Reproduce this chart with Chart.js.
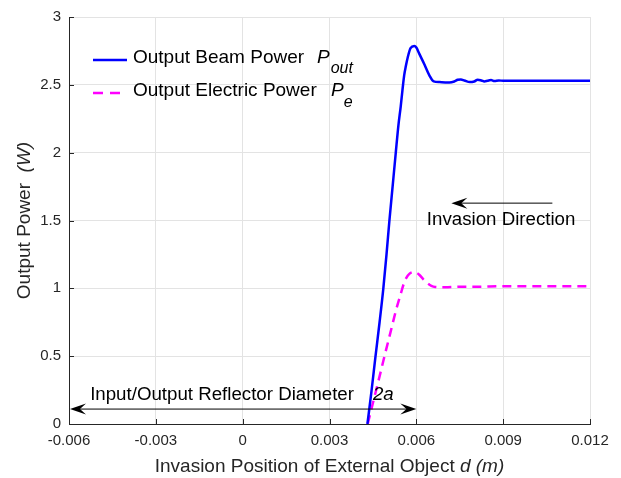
<!DOCTYPE html>
<html>
<head>
<meta charset="utf-8">
<script src="https://cdn.jsdelivr.net/npm/chart.js@4"></script>
<style>
  html, body { margin: 0; padding: 0; background: #fff; }
  #wrap { width: 621px; height: 478px; }
</style>
</head>
<body>
<div id="wrap"><canvas id="powerChart" width="621" height="478"></canvas></div>
<script>
// Output beam power P_out vs invasion position d (m)
var beamD = [0.00431, 0.00445, 0.00459, 0.00473, 0.00486, 0.00497, 0.00507, 0.00518, 0.00529,
  0.00538, 0.00546, 0.00552, 0.00558, 0.00564, 0.00570, 0.00580, 0.00593, 0.00600, 0.00610,
  0.00628, 0.00645, 0.00660, 0.00680, 0.00700, 0.00714, 0.00731, 0.00743, 0.00754, 0.00766,
  0.00785, 0.00800, 0.00812, 0.00825, 0.00835, 0.00846, 0.00858, 0.00870, 0.00885, 0.00900,
  0.00950, 0.01000, 0.01100, 0.01200];
var beamP = [0, 0.24, 0.5, 0.75, 1.0, 1.25, 1.5, 1.75, 2.0,
  2.2, 2.34, 2.46, 2.57, 2.64, 2.7, 2.77, 2.786, 2.775, 2.73,
  2.65, 2.57, 2.525, 2.52, 2.518, 2.518, 2.525, 2.537, 2.54, 2.532,
  2.52, 2.525, 2.538, 2.532, 2.525, 2.53, 2.535, 2.528, 2.532, 2.53,
  2.531, 2.53, 2.53, 2.53];

// Output electric power P_e
var elecD = [0.00432, 0.00450, 0.00470, 0.00490, 0.00510, 0.00530, 0.00545, 0.00556, 0.00565,
  0.00575, 0.00590, 0.00600, 0.00610, 0.00625, 0.00640, 0.00652, 0.00665, 0.00700, 0.00750,
  0.00800, 0.00900, 0.01000, 0.01100, 0.01200];
var elecP = [0, 0.155, 0.325, 0.50, 0.67, 0.84, 0.95, 1.03, 1.075,
  1.105, 1.12, 1.115, 1.10, 1.065, 1.035, 1.018, 1.01, 1.008, 1.012,
  1.012, 1.015, 1.015, 1.016, 1.016];

var xTicks = [-0.006, -0.003, 0, 0.003, 0.006, 0.009, 0.012];
var yTicks = [0, 0.5, 1, 1.5, 2, 2.5, 3];

function pairs(xs, ys) {
  return xs.map(function (x, i) { return { x: x, y: ys[i] }; });
}

var FONT = '"Liberation Sans", Arial, Helvetica, sans-serif';
var INK = '#262626';
var LBL = 19;    // axis titles and legend
var ANN = 18.7;  // text annotations
var SUB = 16;    // subscripts

// draw pieces of text one after the other: [text, fontSize, italic, dy]
function drawRuns(ctx, x, y, runs) {
  var cx = x;
  runs.forEach(function (r) {
    ctx.font = (r[2] ? 'italic ' : '') + r[1] + 'px ' + FONT;
    ctx.fillText(r[0], cx, y + (r[3] || 0));
    cx += ctx.measureText(r[0]).width;
  });
  return cx;
}
function runsWidth(ctx, runs) {
  var w = 0;
  runs.forEach(function (r) {
    ctx.font = (r[2] ? 'italic ' : '') + r[1] + 'px ' + FONT;
    w += ctx.measureText(r[0]).width;
  });
  return w;
}

function arrowHead(ctx, tx, ty, dir) {
  var L = 16, W = 5.5;
  ctx.beginPath();
  ctx.moveTo(tx, ty);
  ctx.lineTo(tx - dir * L, ty - W);
  ctx.lineTo(tx - dir * L * 0.62, ty);
  ctx.lineTo(tx - dir * L, ty + W);
  ctx.closePath();
  ctx.fill();
}

var decorations = {
  id: 'decorations',
  afterDraw: function (chart) {
    var ctx = chart.ctx;
    var a = chart.chartArea;
    var xs = chart.scales.x, ys = chart.scales.y;
    ctx.save();

    // inward tick marks
    ctx.strokeStyle = INK;
    ctx.lineWidth = 1;
    xTicks.forEach(function (v) {
      var px = Math.round(xs.getPixelForValue(v)) + 0.5;
      ctx.beginPath(); ctx.moveTo(px, a.bottom); ctx.lineTo(px, a.bottom - 5); ctx.stroke();
    });
    yTicks.forEach(function (v) {
      var py = Math.round(ys.getPixelForValue(v)) + 0.5;
      ctx.beginPath(); ctx.moveTo(a.left, py); ctx.lineTo(a.left + 5, py); ctx.stroke();
    });

    ctx.textBaseline = 'middle';
    ctx.textAlign = 'left';

    // legend
    var lx = a.left + 24;
    ctx.lineWidth = 2.5;
    ctx.strokeStyle = '#0000ff';
    ctx.beginPath(); ctx.moveTo(lx, 60); ctx.lineTo(lx + 34, 60); ctx.stroke();
    ctx.strokeStyle = '#ff00ff';
    ctx.setLineDash([10, 7]);
    ctx.beginPath(); ctx.moveTo(lx, 93); ctx.lineTo(lx + 34, 93); ctx.stroke();
    ctx.setLineDash([]);
    ctx.fillStyle = '#000';
    drawRuns(ctx, 133, 58, [['Output Beam Power', LBL, false]]);
    var p1 = drawRuns(ctx, 317, 58, [['P', LBL, true]]);
    drawRuns(ctx, p1 + 1, 69, [['out', SUB, true]]);
    drawRuns(ctx, 133, 91, [['Output Electric Power', LBL, false]]);
    var p2 = drawRuns(ctx, 331, 91, [['P', LBL, true]]);
    drawRuns(ctx, p2, 103, [['e', SUB, true]]);

    // invasion direction arrow
    ctx.strokeStyle = '#000';
    ctx.lineWidth = 1;
    var ay = ys.getPixelForValue(1.628);
    var ax0 = xs.getPixelForValue(0.0107), ax1 = xs.getPixelForValue(0.00721);
    ctx.beginPath(); ctx.moveTo(ax0, ay); ctx.lineTo(ax1 + 8, ay); ctx.stroke();
    arrowHead(ctx, ax1, ay, -1);
    ctx.textAlign = 'center';
    ctx.font = ANN + 'px ' + FONT;
    ctx.fillText('Invasion Direction', xs.getPixelForValue(0.00893), ys.getPixelForValue(1.505));

    // reflector diameter double arrow
    var by = ys.getPixelForValue(0.11);
    var bx0 = xs.getPixelForValue(-0.006), bx1 = xs.getPixelForValue(0.006);
    ctx.beginPath(); ctx.moveTo(bx0 + 8, by); ctx.lineTo(bx1 - 8, by); ctx.stroke();
    arrowHead(ctx, bx0 + 1, by, -1);
    arrowHead(ctx, bx1, by, 1);
    ctx.textAlign = 'left';
    var ty = ys.getPixelForValue(0.212);
    drawRuns(ctx, xs.getPixelForValue(-0.00527), ty, [['Input/Output Reflector Diameter', ANN, false]]);
    drawRuns(ctx, xs.getPixelForValue(0.0045), ty, [['2a', ANN, true]]);

    // axis titles
    ctx.fillStyle = INK;
    var xt = [['Invasion Position of External Object ', LBL, false], ['d (m)', LBL, true]];
    var xw = runsWidth(ctx, xt);
    drawRuns(ctx, (a.left + a.right) / 2 - xw / 2, 467, xt);
    ctx.save();
    ctx.translate(25, (a.top + a.bottom) / 2);
    ctx.rotate(-Math.PI / 2);
    var yt = [['Output Power  ', LBL, false], ['(W)', LBL, true]];
    var yw = runsWidth(ctx, yt);
    drawRuns(ctx, -yw / 2, 0, yt);
    ctx.restore();

    ctx.restore();
  }
};

var ctx = document.getElementById('powerChart').getContext('2d');
var chart = new Chart(ctx, {
  type: 'line',
  data: {
    datasets: [
      {
        label: 'Output Beam Power',
        data: pairs(beamD, beamP),
        borderColor: '#0000ff',
        borderWidth: 2.5,
        pointRadius: 0,
        cubicInterpolationMode: 'monotone',
        fill: false
      },
      {
        label: 'Output Electric Power',
        data: pairs(elecD, elecP),
        borderColor: '#ff00ff',
        borderWidth: 2.5,
        borderDash: [9, 6],
        pointRadius: 0,
        cubicInterpolationMode: 'monotone',
        fill: false
      }
    ]
  },
  options: {
    responsive: false,
    animation: false,
    layout: { padding: { left: 0, top: 13, right: 31, bottom: 0 } },
    plugins: { legend: { display: false }, tooltip: { enabled: false } },
    scales: {
      x: {
        type: 'linear',
        min: -0.006,
        max: 0.012,
        afterFit: function (s) { s.height = 54; },
        afterBuildTicks: function (s) { s.ticks = xTicks.map(function (v) { return { value: v }; }); },
        grid: { color: '#e3e3e3', drawTicks: false },
        border: { display: true, color: INK },
        ticks: {
          padding: 8,
          color: INK,
          font: { family: FONT, size: 15 },
          maxRotation: 0,
          callback: function (v) { return Math.abs(v) < 1e-9 ? '0' : v.toFixed(3); }
        }
      },
      y: {
        min: 0,
        max: 3,
        afterFit: function (s) { s.width = 69; },
        afterBuildTicks: function (s) { s.ticks = yTicks.map(function (v) { return { value: v }; }); },
        grid: { color: '#e3e3e3', drawTicks: false },
        border: { display: true, color: INK },
        ticks: {
          padding: 8,
          color: INK,
          font: { family: FONT, size: 15 },
          callback: function (v) { return String(v); }
        }
      }
    }
  },
  plugins: [decorations]
});
</script>
</body>
</html>
